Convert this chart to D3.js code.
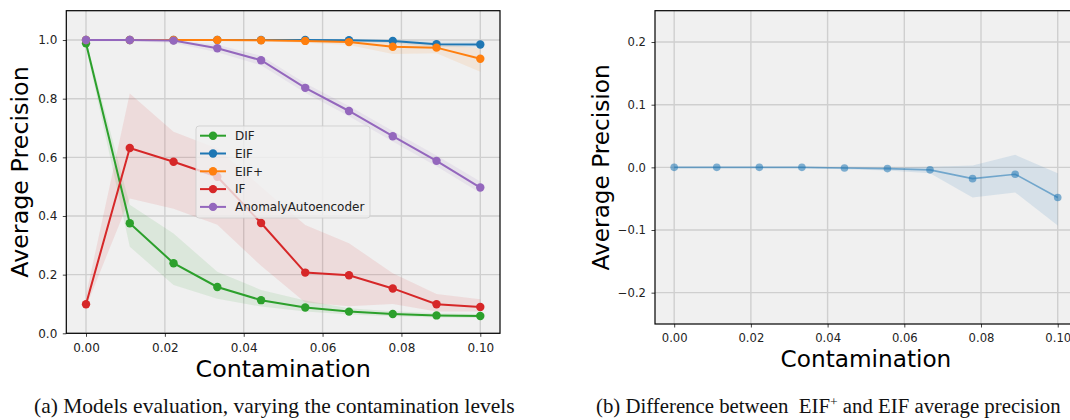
<!DOCTYPE html>
<html>
<head>
<meta charset="utf-8">
<script src="https://cdn.jsdelivr.net/npm/d3@7"></script>
<style>
  body { margin: 0; background: #fff; }
  svg { display: block; }
  .tick text { font-family: "DejaVu Sans", sans-serif; fill: #222; }
  .tick line { stroke: #444; }
  .domain { display: none; }
  .axis-title { font-family: "DejaVu Sans", sans-serif; fill: #000; }
  .caption { font-family: "Liberation Serif", serif; fill: #111; }
</style>
</head>
<body>
<svg id="fig" width="1070" height="420"></svg>
<script>
// contamination levels on the x axis (both panels)
const contamination = [0, 0.0111, 0.0222, 0.0333, 0.0444, 0.0556, 0.0667, 0.0778, 0.0889, 0.1];
const xTicks = [0, 0.02, 0.04, 0.06, 0.08, 0.10];

// panel (a): average precision per model, with min/max bands
const difMean = [0.989, 0.375, 0.239, 0.158, 0.113, 0.088, 0.074, 0.066, 0.061, 0.059];
const difLow  = [0.975, 0.295, 0.165, 0.118, 0.091, 0.074, 0.064, 0.058, 0.054, 0.052];
const difHigh = [1.000, 0.438, 0.340, 0.210, 0.148, 0.112, 0.085, 0.075, 0.068, 0.066];

const eifMean = [1.000, 1.000, 1.000, 1.000, 1.000, 1.000, 0.999, 0.997, 0.986, 0.985];
const eifLow  = [0.998, 0.998, 0.998, 0.998, 0.997, 0.996, 0.993, 0.989, 0.976, 0.975];
const eifHigh = [1.000, 1.000, 1.000, 1.000, 1.000, 1.000, 1.000, 1.000, 0.995, 0.995];

const eifPlusMean = [1.000, 1.000, 1.000, 1.000, 0.999, 0.997, 0.993, 0.977, 0.974, 0.936];
const eifPlusLow  = [0.998, 0.998, 0.998, 0.997, 0.995, 0.991, 0.983, 0.952, 0.955, 0.892];
const eifPlusHigh = [1.000, 1.000, 1.000, 1.000, 1.000, 1.000, 1.000, 0.994, 0.988, 0.972];

const ifMean = [0.099, 0.632, 0.585, 0.534, 0.376, 0.207, 0.198, 0.153, 0.099, 0.090];
const ifLow  = [0.090, 0.460, 0.425, 0.370, 0.230, 0.105, 0.092, 0.100, 0.074, 0.074];
const ifHigh = [0.130, 0.818, 0.687, 0.630, 0.500, 0.369, 0.307, 0.205, 0.134, 0.116];

const aeMean = [1.000, 1.000, 0.998, 0.972, 0.931, 0.837, 0.758, 0.672, 0.588, 0.497];
const aeLow  = [0.996, 0.996, 0.990, 0.958, 0.914, 0.820, 0.740, 0.654, 0.570, 0.478];
const aeHigh = [1.000, 1.000, 1.000, 0.984, 0.946, 0.853, 0.775, 0.690, 0.606, 0.518];

const modelNames = ["DIF", "EIF", "EIF+", "IF", "AnomalyAutoencoder"];
const modelColors = ["#2ca02c", "#1f77b4", "#ff7f0e", "#d62728", "#9467bd"];

// panel (b): EIF+ minus EIF
const diffMean = [0.000, 0.000, 0.000, 0.000, -0.001, -0.002, -0.004, -0.018, -0.011, -0.048];
const diffLow  = [-0.001, -0.001, -0.001, -0.001, -0.003, -0.005, -0.0095, -0.048, -0.040, -0.093];
const diffHigh = [0.001, 0.001, 0.001, 0.001, 0.001, 0.000, 0.001, 0.003, 0.020, -0.0095];

const svg = d3.select("svg#fig");

function translate(x, y) {
  return "translate(" + x + "," + y + ")";
}

function drawPanel(opt) {
  const g = svg.append("g").attr("class", "panel");
  const x = d3.scaleLinear().domain([-0.005, 0.105]).range(opt.xRange);
  const y = d3.scaleLinear().domain(opt.yDomain).range(opt.yRange);
  const [left, right] = opt.xRange;
  const [bottom, top] = opt.yRange;

  g.append("rect")
    .attr("x", left).attr("y", top)
    .attr("width", right - left).attr("height", bottom - top)
    .attr("fill", "#f0f0f0");

  // grid
  g.append("g").selectAll("line.gx")
    .data(xTicks)
    .join("line")
    .attr("x1", d => x(d)).attr("x2", d => x(d))
    .attr("y1", top).attr("y2", bottom)
    .attr("stroke", "#cfcfcf").attr("stroke-width", 1.4);
  g.append("g").selectAll("line.gy")
    .data(opt.yTicks)
    .join("line")
    .attr("x1", left).attr("x2", right)
    .attr("y1", d => y(d)).attr("y2", d => y(d))
    .attr("stroke", "#cfcfcf").attr("stroke-width", 1.4);

  const area = d3.area()
    .x((d, i) => x(contamination[i]))
    .y0(d => y(d[0]))
    .y1(d => y(d[1]));
  const line = d3.line()
    .x((d, i) => x(contamination[i]))
    .y(d => y(d));

  // bands below all lines
  opt.series.forEach(s => {
    g.append("path")
      .datum(s.low.map((v, i) => [v, s.high[i]]))
      .attr("d", area)
      .attr("fill", s.color)
      .attr("fill-opacity", s.bandOpacity);
  });
  opt.series.forEach(s => {
    g.append("path")
      .datum(s.mean)
      .attr("d", line)
      .attr("fill", "none")
      .attr("stroke", s.color)
      .attr("stroke-opacity", s.opacity)
      .attr("stroke-width", s.width);
    g.append("g").selectAll("circle")
      .data(s.mean)
      .join("circle")
      .attr("cx", (d, i) => x(contamination[i]))
      .attr("cy", d => y(d))
      .attr("r", s.r)
      .attr("fill", s.color)
      .attr("fill-opacity", s.opacity);
  });

  // axes
  const xAxis = d3.axisBottom(x).tickValues(xTicks).tickFormat(d3.format(".2f"))
    .tickSize(3.5).tickPadding(opt.xPad);
  g.append("g").attr("transform", translate(0, bottom)).call(xAxis)
    .selectAll("text").style("font-size", opt.tickFont + "px");
  const yAxis = d3.axisLeft(y).tickValues(opt.yTicks).tickFormat(d3.format(".1f"))
    .tickSize(3.5).tickPadding(opt.yPad);
  g.append("g").attr("transform", translate(left, 0)).call(yAxis)
    .selectAll("text").style("font-size", opt.tickFont + "px");

  // frame
  g.append("rect")
    .attr("x", left).attr("y", top)
    .attr("width", right - left).attr("height", bottom - top)
    .attr("fill", "none").attr("stroke", "#000").attr("stroke-width", 1.2);

  g.append("text")
    .attr("class", "axis-title")
    .attr("x", (left + right) / 2).attr("y", opt.xTitleY)
    .attr("text-anchor", "middle")
    .style("font-size", opt.titleFont + "px")
    .text("Contamination");
  g.append("text")
    .attr("class", "axis-title")
    .attr("transform", translate(opt.yTitleX, (top + bottom) / 2) + " rotate(-90)")
    .attr("text-anchor", "middle")
    .style("font-size", opt.titleFont + "px")
    .text("Average Precision");

  return g;
}

const seriesA = [
  { mean: difMean, low: difLow, high: difHigh },
  { mean: eifMean, low: eifLow, high: eifHigh },
  { mean: eifPlusMean, low: eifPlusLow, high: eifPlusHigh },
  { mean: ifMean, low: ifLow, high: ifHigh },
  { mean: aeMean, low: aeLow, high: aeHigh }
].map((s, i) => Object.assign(s, {
  color: modelColors[i], opacity: 1, bandOpacity: 0.1, width: 2, r: 4.2
}));

const panelA = drawPanel({
  xRange: [66.3, 500], yRange: [333.3, 10.7], yDomain: [0, 1.1],
  yTicks: [0, 0.2, 0.4, 0.6, 0.8, 1.0],
  series: seriesA, tickFont: 12, xPad: 6.5, yPad: 5.5,
  titleFont: 23.8, xTitleY: 376.5, yTitleX: 28.3
});

drawPanel({
  xRange: [655, 1076.9], yRange: [324, 10.7], yDomain: [-0.25, 0.25],
  yTicks: [-0.2, -0.1, 0, 0.1, 0.2],
  series: [{ mean: diffMean, low: diffLow, high: diffHigh, color: "#1f77b4",
             opacity: 0.55, bandOpacity: 0.12, width: 1.6, r: 3.8 }],
  tickFont: 11.6, xPad: 6, yPad: 5.5,
  titleFont: 23.2, xTitleY: 366.5, yTitleX: 609.3
});

// legend for panel (a)
const legend = panelA.append("g").attr("transform", translate(196, 126));
legend.append("rect")
  .attr("width", 174).attr("height", 92).attr("rx", 3)
  .attr("fill", "#f0f0f0").attr("fill-opacity", 0.8)
  .attr("stroke", "#cccccc").attr("stroke-opacity", 0.8);
const rows = legend.selectAll("g.row")
  .data(modelNames)
  .join("g")
  .attr("class", "row")
  .attr("transform", (d, i) => translate(0, 9.7 + i * 17.8));
rows.append("line")
  .attr("x1", 4).attr("x2", 30)
  .attr("stroke", (d, i) => modelColors[i]).attr("stroke-width", 2);
rows.append("circle")
  .attr("cx", 17).attr("r", 4.2)
  .attr("fill", (d, i) => modelColors[i]);
rows.append("text")
  .attr("x", 39).attr("dy", "0.36em")
  .style("font-family", "DejaVu Sans, sans-serif")
  .style("font-size", "12px")
  .attr("fill", "#222")
  .text(d => d);

// captions
svg.append("text")
  .attr("class", "caption")
  .attr("x", 34).attr("y", 413)
  .style("font-size", "21.5px")
  .text("(a) Models evaluation, varying the contamination levels");

const capB = svg.append("text")
  .attr("class", "caption")
  .attr("x", 596).attr("y", 413)
  .style("font-size", "20.8px")
  .attr("xml:space", "preserve");
capB.append("tspan").text("(b) Difference between\u00a0 EIF");
capB.append("tspan").attr("dy", -7).style("font-size", "13.5px").text("+");
capB.append("tspan").attr("dy", 7).text(" and EIF average precision");
</script>
</body>
</html>
